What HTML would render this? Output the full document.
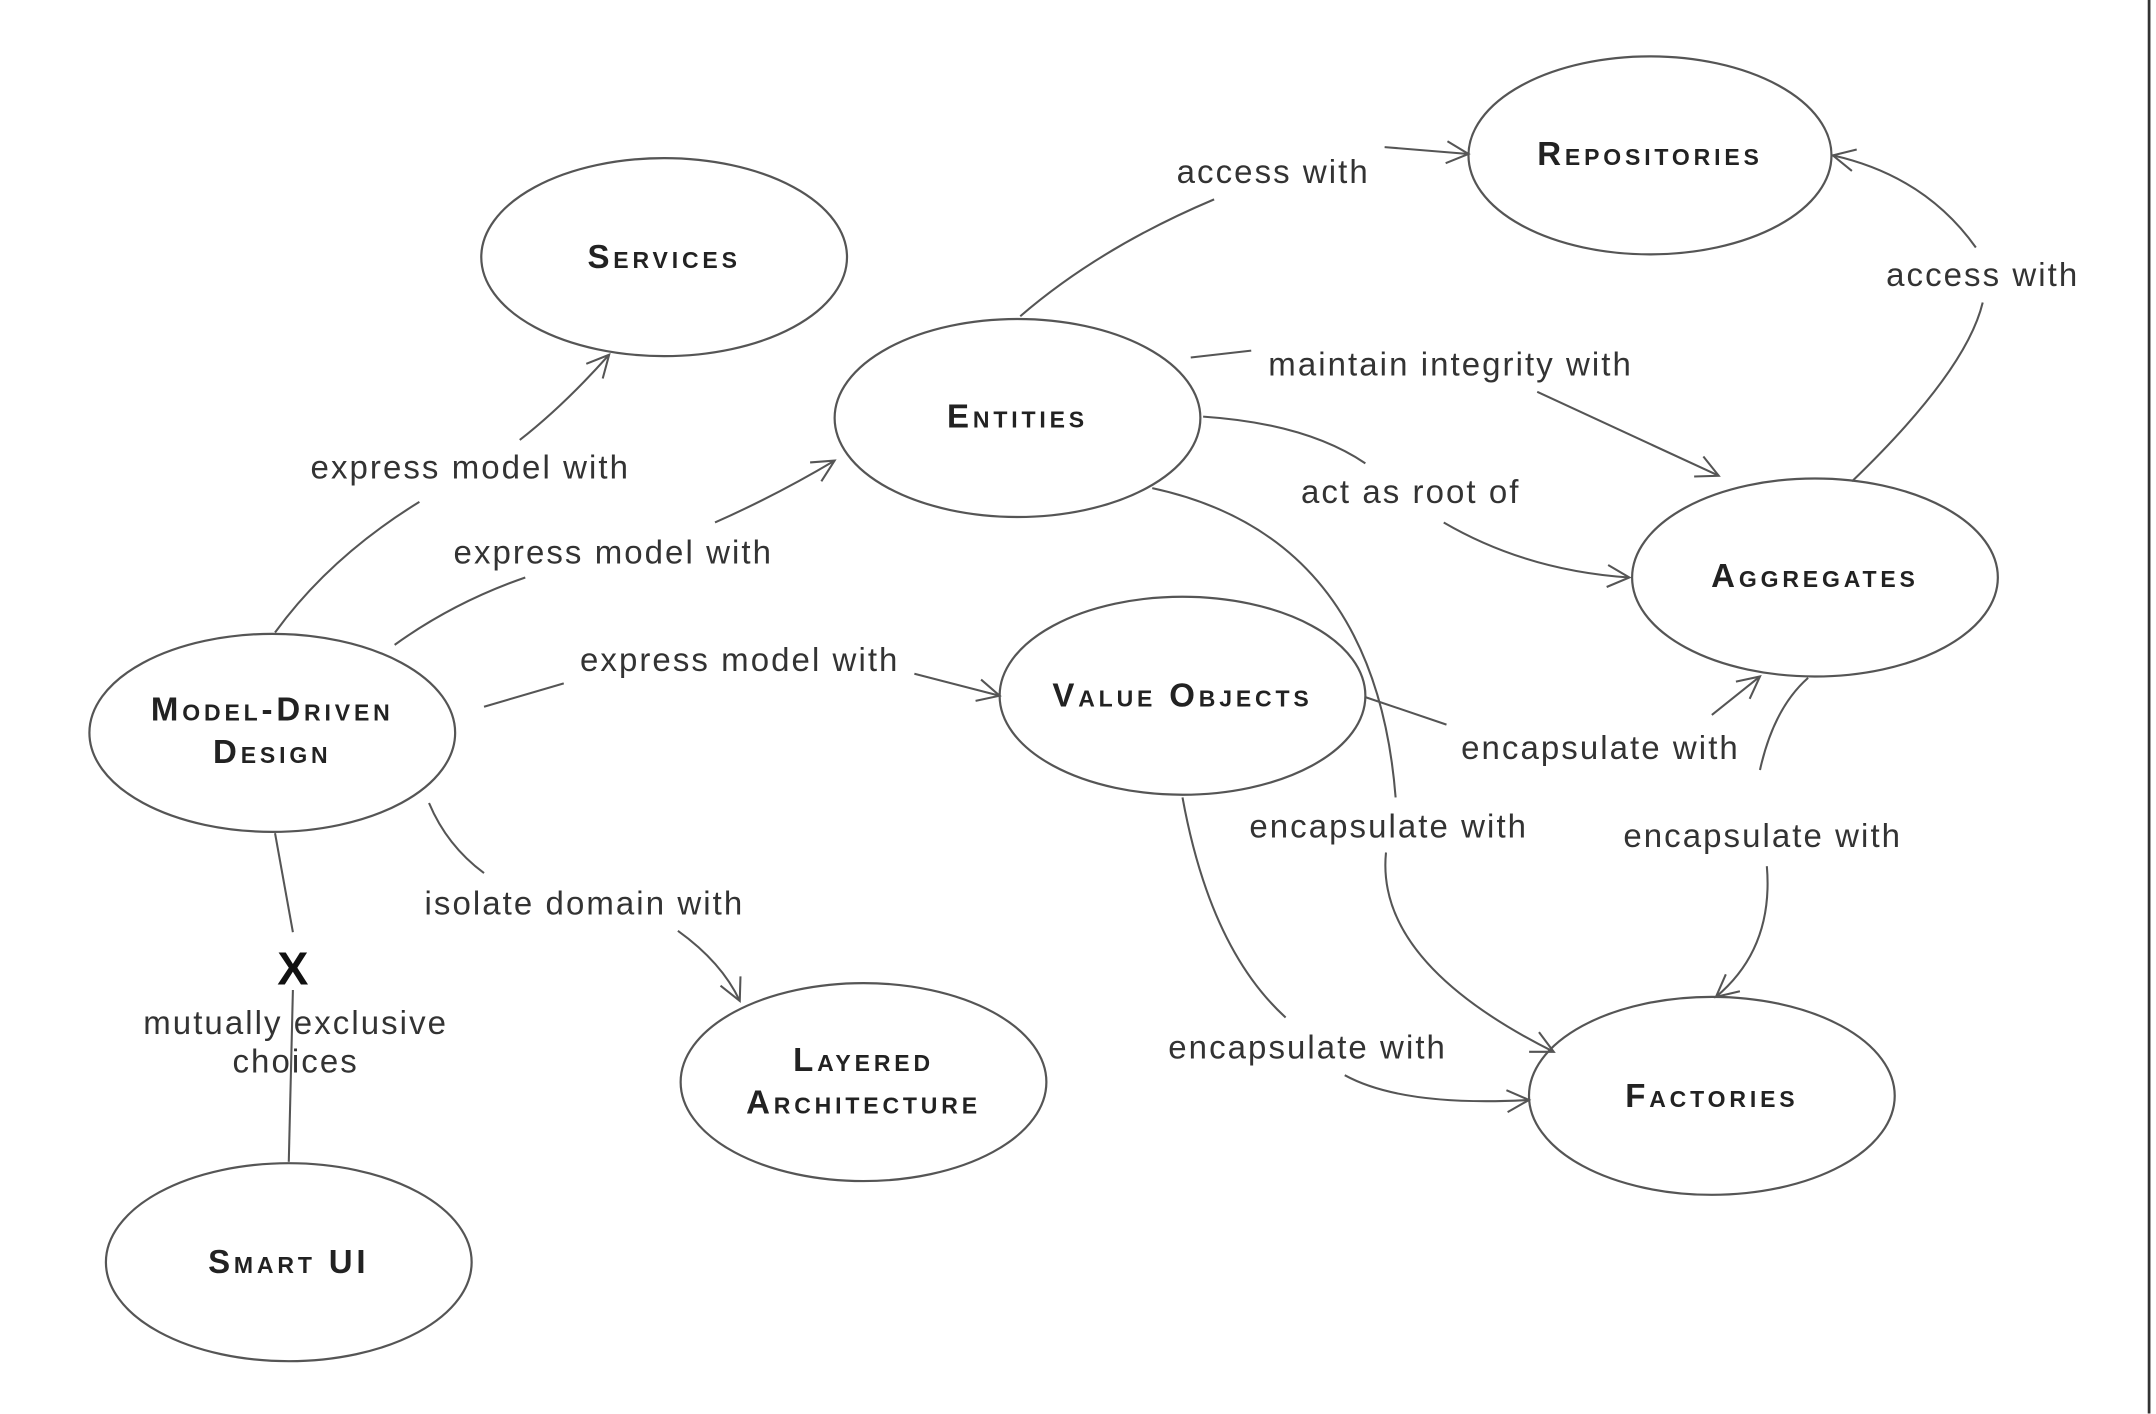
<!DOCTYPE html>
<html><head><meta charset="utf-8"><style>
html,body{margin:0;padding:0;background:#fff;width:2156px;height:1414px;overflow:hidden}
svg{display:block}
.n{font-family:"Liberation Sans",sans-serif;font-weight:bold;font-variant:small-caps;font-size:24px;fill:#222;text-anchor:middle;letter-spacing:2.8px}
.l{font-family:"Liberation Sans",sans-serif;font-size:24px;fill:#333;text-anchor:middle;letter-spacing:1.5px}
ellipse{fill:none;stroke:#555;stroke-width:1.6}
path{fill:none;stroke:#555;stroke-width:1.5}
</style></head><body>
<svg width="2156" height="1414" viewBox="0 0 1568 1028.4" xmlns="http://www.w3.org/2000/svg">
<defs><marker id="a" markerWidth="20" markerHeight="20" refX="18" refY="10" orient="auto" markerUnits="userSpaceOnUse"><path d="M2,2 L18,10 L2,18" style="stroke:#555;stroke-width:1.5;fill:none"/></marker></defs>
<line x1="1563" y1="0" x2="1563" y2="1028" stroke="#333" stroke-width="2"/>
<ellipse cx="483" cy="187" rx="133" ry="72"/><text class="n" x="483" y="195">Services</text>
<ellipse cx="1200" cy="113" rx="132" ry="72"/><text class="n" x="1200" y="120">Repositories</text>
<ellipse cx="740" cy="304" rx="133" ry="72"/><text class="n" x="740" y="311">Entities</text>
<ellipse cx="1320" cy="420" rx="133" ry="72"/><text class="n" x="1320" y="427">Aggregates</text>
<ellipse cx="860" cy="506" rx="133" ry="72"/><text class="n" x="860" y="514">Value Objects</text>
<ellipse cx="198" cy="533" rx="133" ry="72"/><text class="n" x="198" y="524">Model-Driven</text><text class="n" x="198" y="555">Design</text>
<ellipse cx="628" cy="787" rx="133" ry="72"/><text class="n" x="628" y="779">Layered</text><text class="n" x="628" y="810">Architecture</text>
<ellipse cx="1245" cy="797" rx="133" ry="72"/><text class="n" x="1245" y="805">Factories</text>
<ellipse cx="210" cy="918" rx="133" ry="72"/><text class="n" x="210" y="926">Smart UI</text>

<path d="M200,460 Q240,405 305,365"/><path d="M378,320 Q410,295 443,258" marker-end="url(#a)"/>
<text class="l" x="342" y="348">express model with</text>
<path d="M287,469 Q330,438 382,420"/><path d="M520,380 Q565,360 607,335" marker-end="url(#a)"/>
<text class="l" x="446" y="410">express model with</text>
<path d="M352,514 L410,497"/><path d="M665,490 L727,506" marker-end="url(#a)"/>
<text class="l" x="538" y="488">express model with</text>
<path d="M312,584 Q325,615 352,635"/><path d="M493,677 Q525,700 538,728" marker-end="url(#a)"/>
<text class="l" x="425" y="665">isolate domain with</text>
<path d="M200,606 L213,678"/><path d="M213,720 L210,845"/>
<text class="l" x="213" y="716" style="font-weight:bold;font-size:34px;fill:#111;letter-spacing:0">X</text>
<text class="l" x="215" y="752">mutually exclusive</text><text class="l" x="215" y="780">choices</text>
<path d="M742,230 Q800,180 883,145"/><path d="M1007,107 L1068,112" marker-end="url(#a)"/>
<text class="l" x="926" y="133">access with</text>
<path d="M866,260 L910,255"/><path d="M1118,285 L1250,346" marker-end="url(#a)"/>
<text class="l" x="1055" y="273">maintain integrity with</text>
<path d="M875,303 Q950,308 993,337"/><path d="M1050,380 Q1110,415 1185,420" marker-end="url(#a)"/>
<text class="l" x="1026" y="366">act as root of</text>
<path d="M1347,350 Q1430,270 1442,220"/><path d="M1437,180 Q1400,128 1333,113" marker-end="url(#a)"/>
<text class="l" x="1442" y="208">access with</text>
<path d="M993,507 L1052,527"/><path d="M1245,520 L1280,492" marker-end="url(#a)"/>
<text class="l" x="1164" y="552">encapsulate with</text>
<path d="M838,355 Q1000,390 1015,580"/><path d="M1008,620 Q1000,700 1130,765" marker-end="url(#a)"/>
<text class="l" x="1010" y="609">encapsulate with</text>
<path d="M1315,493 Q1290,515 1280,560"/><path d="M1285,630 Q1290,690 1248,725" marker-end="url(#a)"/>
<text class="l" x="1282" y="616">encapsulate with</text>
<path d="M860,580 Q880,690 935,740"/><path d="M978,782 Q1020,805 1112,800" marker-end="url(#a)"/>
<text class="l" x="951" y="770">encapsulate with</text>
</svg>
</body></html>
